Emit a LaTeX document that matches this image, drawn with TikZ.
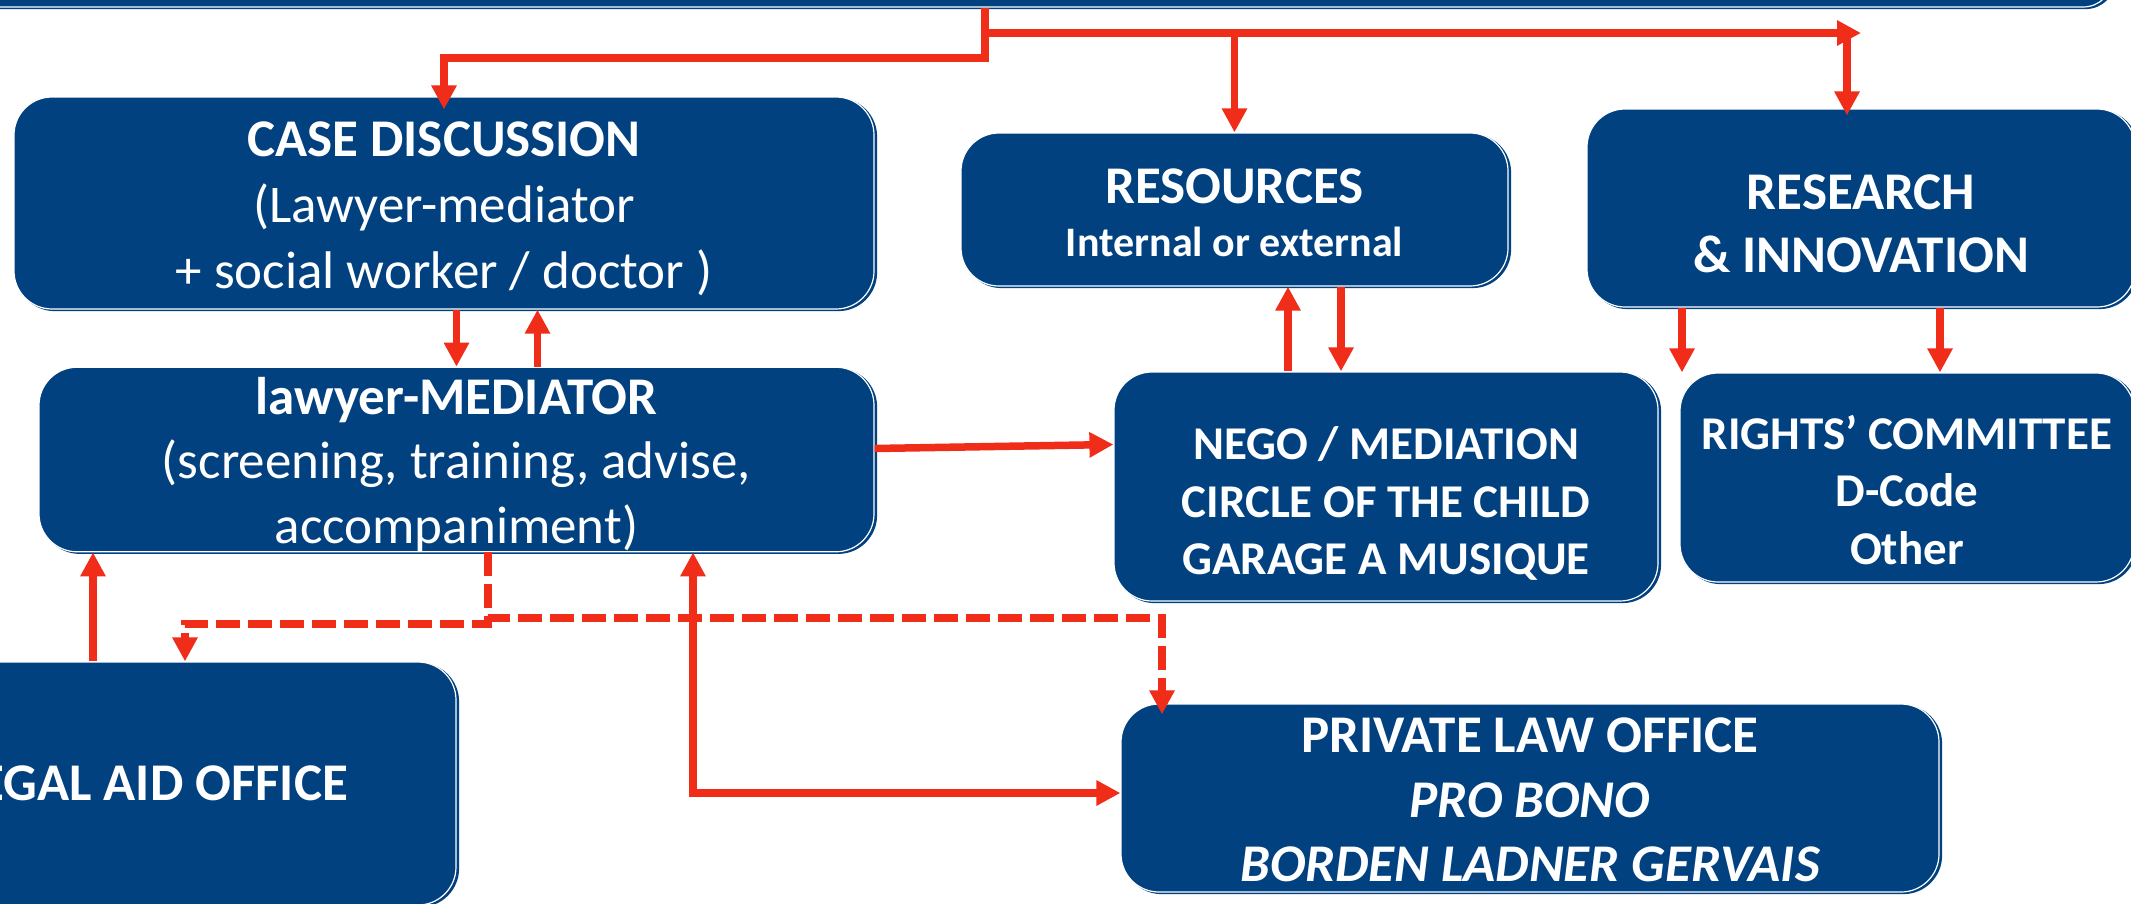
\documentclass[tikz,border=0pt]{standalone}
\usepackage{fontspec}
\setmainfont{Carlito}
\usetikzlibrary{arrows.meta,shadows}
\definecolor{boxblue}{RGB}{1,65,128}
\definecolor{linkred}{RGB}{240,45,25}
% taller first line, pushes the text of a box down
\newcommand\padtop[1]{\rule{0pt}{#1}}
\tikzset{
  box/.style={rectangle, rounded corners=38pt, fill=boxblue, draw=white,
    line width=1.2pt, text=white, align=center, inner sep=0pt,
    copy shadow={shadow xshift=2.5pt, shadow yshift=-1.5pt, draw=boxblue, fill=boxblue}},
  big/.style={font=\fontsize{53}{64.5}\selectfont\bfseries},
  mid/.style={font=\fontsize{47}{57.5}\selectfont\bfseries},
  small/.style={font=\fontsize{42}{52.5}\selectfont\bfseries},
  link/.style={draw=linkred, line width=7.5pt, ->},
  dlink/.style={link, line width=8pt, dash pattern=on 24pt off 8pt},
  >={Triangle[length=24pt,width=24pt]}
}
\begin{document}
\begin{tikzpicture}[x=1pt,y=-1pt]
  \useasboundingbox (0,0) rectangle (2131,903);
  \clip (0,0) rectangle (2131,903);
  % boxes
  \node[box, minimum width=2173pt, minimum height=127pt, rounded corners=30pt] (bar) at (1026.5,-56.5) {};
  \node[box, big, font=\fontsize{53}{66}\selectfont\bfseries, minimum width=860pt, minimum height=212pt] (case) at (444,203)
    {\padtop{47pt}CASE DISCUSSION\\\mdseries(Lawyer-mediator\\\mdseries+ social worker / doctor )};
  \node[box, small, minimum width=547pt, minimum height=153pt] (res) at (1234.5,209.5)
    {{\fontsize{53}{64.5}\selectfont\padtop{41pt}RESOURCES}\\Internal or external};
  \node[box, big, font=\fontsize{53}{63}\selectfont\bfseries, minimum width=548pt, minimum height=198pt] (rni) at (1861,208)
    {\padtop{67pt}RESEARCH\\\& INNOVATION};
  \node[box, big, minimum width=835pt, minimum height=183pt] (med) at (456.5,459.5)
    {\padtop{47pt}lawyer-MEDIATOR\\\mdseries(screening, training, advise,\\\mdseries accompaniment)};
  \node[box, mid, minimum width=544pt, minimum height=229pt] (nego) at (1386,486.5)
    {\padtop{67pt}NEGO / MEDIATION\\CIRCLE OF THE CHILD\\GARAGE A MUSIQUE};
  \node[box, mid, minimum width=454pt, minimum height=209pt] (rights) at (1907,477.5)
    {\padtop{59pt}RIGHTS’ COMMITTEE\\D-Code\\Other};
  \node[box, big, minimum width=608pt, minimum height=243pt] (legal) at (152,783.5)
    {LEGAL AID OFFICE};
  \node[box, big, minimum width=818pt, minimum height=188pt] (priv) at (1530,798)
    {\padtop{39pt}PRIVATE LAW OFFICE\\\itshape PRO BONO\\\itshape BORDEN LADNER GERVAIS};
  % bends and columns of the connectors
  \coordinate (hub) at (985,33);
  \coordinate (split) at (985,58);
  \coordinate (hubend) at (1861,33);
  \coordinate (rnitop) at (1847,33);
  \coordinate (up) at (1288,0);
  \coordinate (dn) at (1341,0);
  \coordinate (ra) at (1682,0);
  \coordinate (rb) at (1940,0);
  \coordinate (la) at (93,0);
  \coordinate (pa) at (693,0);
  \coordinate (da) at (488,0);
  \coordinate (dl) at (185,624);
  \coordinate (dr) at (1162,618);
  \begin{scope}[link]
    \draw[shorten >=-13pt] (bar.south -| hub) -- (split) -| (case.north);
    \draw (hub) -- (hubend);
    \draw (res.north |- hub) -- (res.north);
    \draw[shorten >=-7pt] (rnitop) -- (rni.north -| rnitop);
    \draw (case.south -| med.north) -- (med.north);
    \draw ([xshift=81pt]med.north) -- ([xshift=81pt]med.north |- case.south);
    \draw ([yshift=11pt]med.east) -- ([yshift=42pt]nego.west);
    \draw (nego.north -| up) -- (res.south -| up);
    \draw (res.south -| dn) -- (nego.north -| dn);
    \draw (rni.south -| ra) -- (rights.north -| ra);
    \draw (rni.south -| rb) -- (rights.north -| rb);
    \draw (legal.north -| la) -- (med.south -| la);
    \draw[<->] (med.south -| pa) |- ([yshift=5pt]priv.west);
  \end{scope}
  \begin{scope}[dlink]
    \draw (med.south -| da) |- (dl) -- (legal.north -| dl);
    \draw[shorten >=-11pt] (med.south -| da) |- (dr) -- (priv.north -| dr);
  \end{scope}
\end{tikzpicture}
\end{document}
